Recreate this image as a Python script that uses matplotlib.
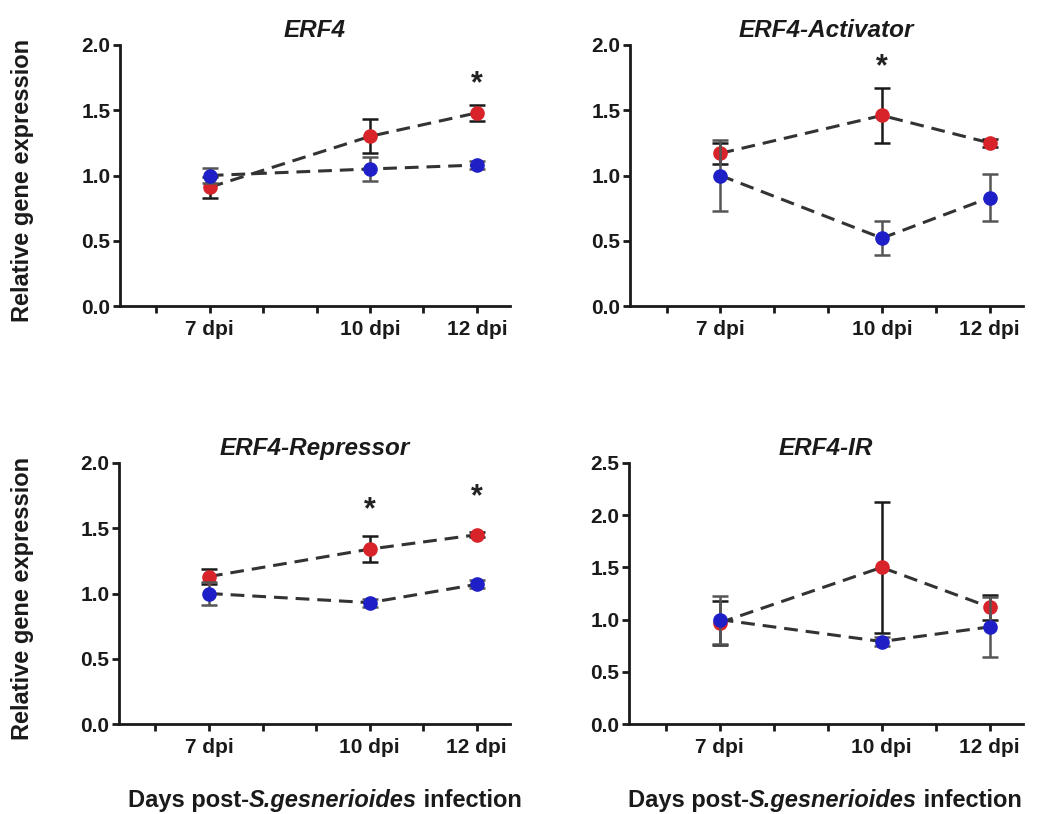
import matplotlib
matplotlib.use("Agg")
import matplotlib.pyplot as plt

plt.rcParams['font.family'] = ['Liberation Sans', 'DejaVu Sans']

days = [7, 10, 12]
tick_days = [6, 7, 8, 9, 10, 11, 12]
tick_labels = ['', '7 dpi', '', '', '10 dpi', '', '12 dpi']

titles = ['ERF4', 'ERF4-Activator', 'ERF4-Repressor', 'ERF4-IR']

# mean and error for the two lines in each panel
red_mean = [[0.91, 1.30, 1.48], [1.17, 1.46, 1.25], [1.13, 1.34, 1.45], [0.97, 1.50, 1.12]]
red_err = [[0.08, 0.13, 0.06], [0.08, 0.21, 0.03], [0.06, 0.10, 0.02], [0.21, 0.63, 0.12]]
blue_mean = [[1.00, 1.05, 1.08], [1.00, 0.52, 0.83], [1.00, 0.93, 1.07], [1.00, 0.79, 0.93]]
blue_err = [[0.06, 0.09, 0.03], [0.27, 0.13, 0.18], [0.09, 0.03, 0.03], [0.23, 0.04, 0.29]]

# significance markers: (day, height)
stars = [[(12, 1.70)], [(10, 1.83)], [(10, 1.64), (12, 1.74)], []]
ymax = [2.0, 2.0, 2.0, 2.5]

xlabel_parts = [('Days post-', 'normal'), ('S.gesnerioides', 'italic'), (' infection', 'normal')]

fig = plt.figure(figsize=(10.43, 8.14), dpi=100)
W, H = 1043, 814
boxes = [(120, 45, 390, 261), (630, 45, 393, 261), (119, 463, 391, 261), (629, 463, 394, 261)]
xlabel_centers = {2: 325, 3: 825}

RED = '#d8232a'
BLUE = '#1f1fc8'
INK = '#1a1a1a'

renderer = fig.canvas.get_renderer()


def rich_label(cx, cy):
    """Bold label with an italic species name, laid out piece by piece on one baseline."""
    pieces = []
    for txt, style in xlabel_parts:
        t = fig.text(0, cy, txt, fontsize=17, fontweight='bold', fontstyle=style,
                     color=INK, ha='left', va='baseline')
        pieces.append(t)
    widths = []
    for t in pieces:
        tw, _, _ = renderer.get_text_width_height_descent(
            t.get_text(), t.get_fontproperties(), ismath=False)
        widths.append(tw)
    x = cx - sum(widths) / 2
    for t, tw in zip(pieces, widths):
        t.set_x(x / W)
        x += tw


for i, (x0, y0, w, h) in enumerate(boxes):
    ax = fig.add_axes([x0 / W, 1 - (y0 + h) / H, w / W, h / H])
    ax.errorbar(days, red_mean[i], yerr=red_err[i], fmt='o', color=RED, ms=9.5,
                ecolor=INK, elinewidth=1.8, capsize=6, capthick=1.8, zorder=3)
    ax.errorbar(days, blue_mean[i], yerr=blue_err[i], fmt='o', color=BLUE, ms=9.5,
                ecolor='#555555', elinewidth=1.8, capsize=6, capthick=1.8, zorder=4)
    ax.plot(days, red_mean[i], ls=(0, (4.5, 2.6)), color='#333333', lw=2.2, zorder=2)
    ax.plot(days, blue_mean[i], ls=(0, (4.5, 2.6)), color='#333333', lw=2.2, zorder=2)
    for d, yv in stars[i]:
        ax.text(d, yv, '*', ha='center', va='center', fontsize=22, fontweight='bold',
                color='#222222', clip_on=False)

    ax.set_xlim(5.32, 12.62)
    ax.set_ylim(0, ymax[i])
    n = int(ymax[i] / 0.5) + 1
    ax.set_yticks([v * 0.5 for v in range(n)])
    ax.set_yticklabels([f'{v * 0.5:.1f}' for v in range(n)])
    ax.set_xticks(tick_days)
    ax.set_xticklabels(tick_labels)
    for s in ['top', 'right']:
        ax.spines[s].set_visible(False)
    for s in ['left', 'bottom']:
        ax.spines[s].set_linewidth(2.0)
        ax.spines[s].set_color(INK)
    ax.tick_params(axis='both', direction='out', length=5, width=2.0, color=INK,
                   labelsize=15, pad=2)
    ax.tick_params(axis='x', pad=5)
    for lab in ax.get_xticklabels() + ax.get_yticklabels():
        lab.set_fontweight('bold')
        lab.set_color(INK)
    ax.set_title(titles[i], fontsize=17.5, fontweight='bold', fontstyle='italic', pad=6,
                 color=INK)
    if i in (0, 2):
        fig.text(23 / W, 1 - (y0 + h / 2 + 5) / H, 'Relative gene expression',
                 rotation=90, ha='center', va='center', fontsize=17,
                 fontweight='bold', color=INK)
    if i in xlabel_centers:
        rich_label(xlabel_centers[i], 1 - 807 / H)

fig.savefig('out.png', dpi=100, facecolor='white')
